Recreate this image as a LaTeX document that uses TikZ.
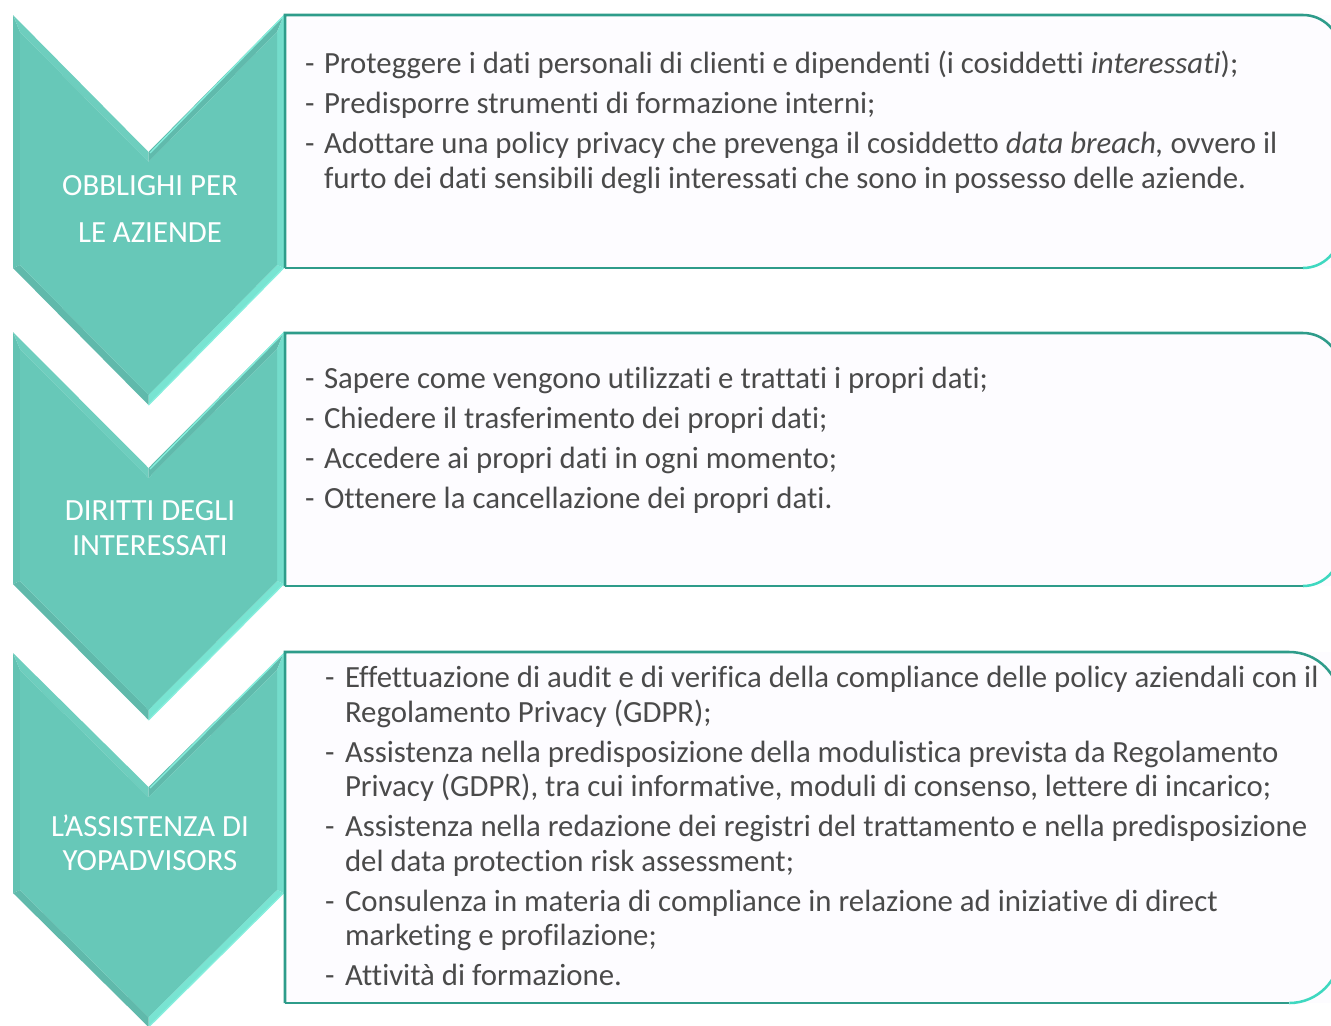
\documentclass[tikz,border=0pt]{standalone}
\usepackage{fontspec}
\setmainfont[Ligatures={NoCommon}]{Carlito}
\definecolor{chevmain}{HTML}{67C8B8}
\definecolor{chevleft}{HTML}{63C2B2}
\definecolor{chevtl}{HTML}{6ECEBE}
\definecolor{chevtr}{HTML}{60BAAC}
\definecolor{chevright}{HTML}{74DCCB}
\definecolor{chevbr}{HTML}{78E4D2}
\definecolor{chevbl}{HTML}{60B9AB}
\definecolor{chevhi}{HTML}{86EEDD}
\definecolor{boxteal}{HTML}{2E9C8A}
\definecolor{boxlight}{HTML}{3FD8C0}
\definecolor{boxfill}{HTML}{FDFCFF}
\definecolor{txtgray}{HTML}{4A4A4A}
\newcommand{\chevshape}[3]{%
  % #1 top, #2 side height, #3 notch depth
  \fill[chevleft] ({13},{#1}) -- ({13},{#1+#2}) -- ({20},{#1+#2-3}) -- ({20},{#1+17}) -- cycle;
  \fill[chevtl] ({13},{#1}) -- ({148.5},{#1+#3}) -- ({148.5},{#1+#3+10}) -- ({20},{#1+17}) -- cycle;
  \fill[chevtr] ({148.5},{#1+#3}) -- ({284},{#1}) -- ({277},{#1+17}) -- ({148.5},{#1+#3+10}) -- cycle;
  \fill[chevright] ({284},{#1}) -- ({284},{#1+#2}) -- ({277},{#1+#2-3}) -- ({277},{#1+17}) -- cycle;
  \fill[chevbr] ({284},{#1+#2}) -- ({148.5},{#1+#2+#3}) -- ({148.5},{#1+#2+#3-10}) -- ({277},{#1+#2-3}) -- cycle;
  \fill[chevbl] ({148.5},{#1+#2+#3}) -- ({13},{#1+#2}) -- ({20},{#1+#2-3}) -- ({148.5},{#1+#2+#3-10}) -- cycle;
  \fill[chevmain] ({20},{#1+17}) -- ({148.5},{#1+#3+10}) -- ({277},{#1+17}) -- ({277},{#1+#2-3}) -- ({148.5},{#1+#2+#3-10}) -- ({20},{#1+#2-3}) -- cycle;
  \draw[chevhi, line width=1pt] ({150},{#1+#3+1}) -- ({283.5},{#1+1}) -- ({283.5},{#1+#2}) -- ({148.5},{#1+#2+#3});
}
\newcommand{\roundbox}[4]{%
  % #1 top, #2 bottom, #3 radius (pt), #4 right edge
  \fill[boxfill] (285,#1) -- ({#4},#1) -- ({#4},#2) -- (285,#2) -- cycle;
  \draw[boxteal, line width=1.9pt] (285,#2) -- (285,#1) -- ({#4-#3/0.75},#1) arc[start angle=90,end angle=0,radius=#3 pt] -- ({#4},{#2-#3/0.75});
  \draw[boxlight, line width=1.9pt] ({#4},{#2-#3/0.75}) arc[start angle=0,end angle=-90,radius=#3 pt];
  \draw[boxteal, line width=1.9pt] ({#4-#3/0.75},#2) -- (285,#2);
}
\begin{document}
\begin{tikzpicture}[x=0.75pt,y=-0.75pt,
  body/.style={anchor=base west, inner sep=0pt, outer sep=0pt, text=txtgray, font=\fontsize{23.1}{26.25}\selectfont},
  lab/.style={anchor=base, inner sep=0pt, outer sep=0pt, text=white, font=\fontsize{23.1}{26.25}\selectfont}]
\useasboundingbox (0,0) rectangle (1331,1025);
\clip (0,0) rectangle (1331,1025);
\fill[white] (0,0) rectangle (1331,1025);

% chevrons
\chevshape{15}{253}{137}
\chevshape{332}{252}{136}
\chevshape{653}{240}{134}

% boxes
\roundbox{15}{268}{27.75}{1340}
\roundbox{333}{586}{27.75}{1340}
\roundbox{652}{1003}{38}{1340}

% labels
\node[lab] (l1a) at (150,195) {OBBLIGHI PER};
\node[lab] (l1b) at (150,242) {LE AZIENDE};
\node[lab] (l2a) at (150,520) {DIRITTI DEGLI};
\node[lab] (l2b) at (150,555) {INTERESSATI};
\node[lab] (l3a) at (150,836) {L’ASSISTENZA DI};
\node[lab] (l3b) at (150,870) {YOPADVISORS};

% box 1 text
\node[body] (d11) at (305,73) {-};
\node[body] (t11) at (324,73) {Proteggere i dati personali di clienti e dipendenti (i cosiddetti \textit{interessati});};
\node[body] (d12) at (305,113) {-};
\node[body] (t12) at (324,113) {Predisporre strumenti di formazione interni;};
\node[body] (d13) at (305,153) {-};
\node[body] (t13) at (324,153) {Adottare una policy privacy che prevenga il cosiddetto \textit{data breach,} ovvero il};
\node[body] (t13b) at (324,188) {furto dei dati sensibili degli interessati che sono in possesso delle aziende.};

% box 2 text
\node[body] (d21) at (305,388) {-};
\node[body] (t21) at (324,388) {Sapere come vengono utilizzati e trattati i propri dati;};
\node[body] (d22) at (305,428) {-};
\node[body] (t22) at (324,428) {Chiedere il trasferimento dei propri dati;};
\node[body] (d23) at (305,468) {-};
\node[body] (t23) at (324,468) {Accedere ai propri dati in ogni momento;};
\node[body] (d24) at (305,508) {-};
\node[body] (t24) at (324,508) {Ottenere la cancellazione dei propri dati.};

% box 3 text
\node[body] (d31) at (325,687) {-};
\node[body] (t31) at (345,687) {Effettuazione di audit e di verifica della compliance delle policy aziendali con il};
\node[body] (t31b) at (345,722) {Regolamento Privacy (GDPR);};
\node[body] (d32) at (325,762) {-};
\node[body] (t32) at (345,762) {Assistenza nella predisposizione della modulistica prevista da Regolamento};
\node[body] (t32b) at (345,796) {Privacy (GDPR), tra cui informative, moduli di consenso, lettere di incarico;};
\node[body] (d33) at (325,836) {-};
\node[body] (t33) at (345,836) {Assistenza nella redazione dei registri del trattamento e nella predisposizione};
\node[body] (t33b) at (345,871) {del data protection risk assessment;};
\node[body] (d34) at (325,911) {-};
\node[body] (t34) at (345,911) {Consulenza in materia di compliance in relazione ad iniziative di direct};
\node[body] (t34b) at (345,945) {marketing e profilazione;};
\node[body] (d35) at (325,985) {-};
\node[body] (t35) at (345,985) {Attività di formazione.};
\end{tikzpicture}
\end{document}
